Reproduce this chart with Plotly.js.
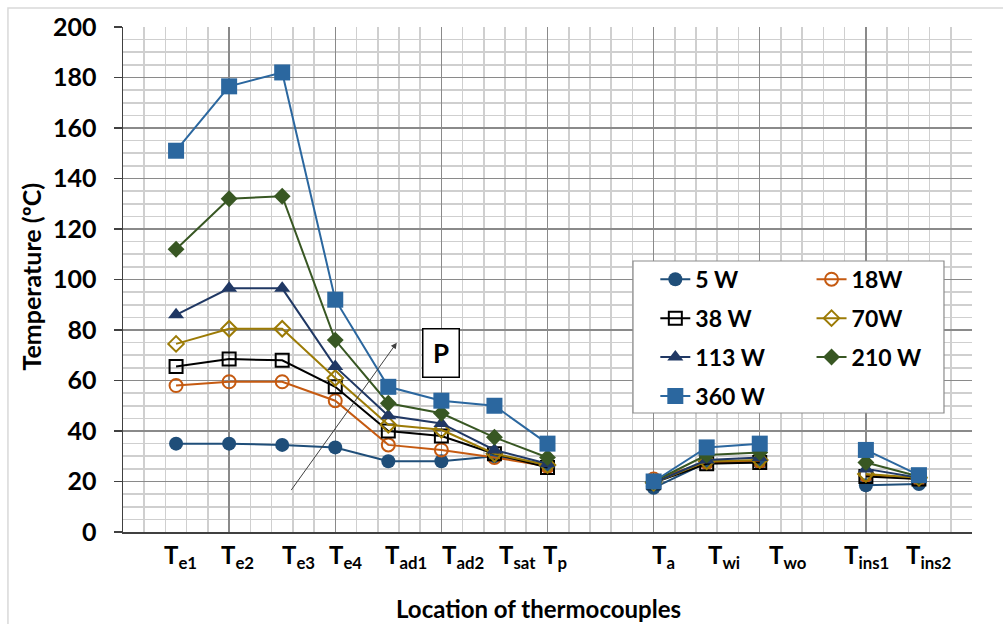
<!DOCTYPE html>
<html>
<head>
<meta charset="utf-8">
<script src="https://cdn.plot.ly/plotly-3.0.1.min.js"></script>
<style>
  html, body { margin: 0; padding: 0; background: #ffffff; }
  #chart { width: 1003px; height: 624px; }
</style>
</head>
<body>
<div id="chart"></div>
<script>
// Thermocouple locations along the rig (numeric x positions leave gaps between groups)
const locationLabels = ['T<sub>e1</sub>', 'T<sub>e2</sub>', 'T<sub>e3</sub>', 'T<sub>e4</sub>',
  'T<sub>ad1</sub>', 'T<sub>ad2</sub>', 'T<sub>sat</sub>', 'T<sub>p</sub>',
  'T<sub>a</sub>', 'T<sub>wi</sub>', 'T<sub>wo</sub>',
  'T<sub>ins1</sub>', 'T<sub>ins2</sub>'];
const locationPos = [1, 2, 3, 4, 5, 6, 7, 8, 10, 11, 12, 14, 15];

// Segments that are joined by lines: evaporator/adiabatic section, water jacket, insulation
const segments = [[0, 8], [8, 11], [11, 13]];

// Temperatures (°C) for each heat input
const seriesNames = ['5 W', '18W', '38 W', '70W', '113 W', '210 W', '360 W'];
const temp5W   = [35, 35, 34.5, 33.5, 28, 28, 30, 26.5, 17.5, 27.5, 27.5, 18.5, 19];
const temp18W  = [58, 59.5, 59.5, 52, 34.5, 32.5, 29.5, 26, 21, 27.5, 28, 22.5, 21];
const temp38W  = [65.5, 68.5, 68, 57.5, 40, 38, 31, 25.5, 19.5, 27, 27.5, 22, 21];
const temp70W  = [74.5, 80.5, 80.5, 61, 42.5, 40.5, 31, 26.5, 19.5, 28, 28.5, 23, 21.5];
const temp113W = [86, 96.5, 96.5, 65.5, 46, 43, 32.5, 27, 19.5, 28.5, 29.5, 25, 21.5];
const temp210W = [112, 132, 133, 76, 51, 47, 37.5, 29.5, 20, 30.5, 31.5, 27.5, 22];
const temp360W = [151, 176.5, 182, 92, 57.5, 52, 50, 35, 20, 33.5, 35, 32.5, 22.5];
const seriesValues = [temp5W, temp18W, temp38W, temp70W, temp113W, temp210W, temp360W];

// Arrow showing increasing power, and its label
const arrowTail = [3.15, 16];
const arrowHead = [5.16, 75];
const arrowLabel = 'P';
const arrowLabelPos = [6.0, 71];

const xTitle = 'Location of thermocouples';
const yTitle = 'Temperature (ºC)';

// Horizontal nudge (px) of each location label's left edge from its sensor position
const labelNudge = [-11, -7, 1, -5, -2, 2, 6, -4, -1, 2, 10, -21, -12];

const styles = [
  { color: '#1F4E79', symbol: 'circle', size: 14, legend: 'legend' },
  { color: '#C55A11', symbol: 'circle-open', size: 13, legend: 'legend2' },
  { color: '#000000', symbol: 'square-open', size: 13, legend: 'legend' },
  { color: '#9C7B06', symbol: 'diamond-open', size: 12, legend: 'legend2' },
  { color: '#203864', symbol: 'triangle-up', size: 14, legend: 'legend' },
  { color: '#385723', symbol: 'diamond', size: 13, legend: 'legend2' },
  { color: '#2B679F', symbol: 'square', size: 16, legend: 'legend' }
];

const FONT = 'Lato, "Open Sans", sans-serif';

// Break each series between the three separate groups of sensors
function withGaps(values) {
  const xs = [], ys = [];
  segments.forEach(([a, b], k) => {
    if (k > 0) { xs.push(null); ys.push(null); }
    for (let i = a; i < b; i++) { xs.push(locationPos[i]); ys.push(values[i]); }
  });
  return { xs, ys };
}

const traces = seriesNames.map((name, i) => {
  const s = styles[i];
  const { xs, ys } = withGaps(seriesValues[i]);
  return {
    type: 'scatter', mode: 'lines+markers', name: name,
    x: xs, y: ys, legend: s.legend, legendgroup: name,
    connectgaps: false,
    line: { color: s.color, width: 2 },
    marker: { symbol: s.symbol, size: s.size, color: s.color,
              line: { color: s.color, width: s.symbol.endsWith('open') ? 2 : 0 } }
  };
});

// Location labels under the axis
const annotations = locationLabels.map((t, i) => ({
  x: locationPos[i], xref: 'x', y: 0, yref: 'paper', xanchor: 'left', yanchor: 'top',
  yshift: -6, xshift: labelNudge[i] - 3,
  text: t, showarrow: false,
  font: { family: FONT, size: 24, color: '#000', weight: 'bold' }
}));

// Axis titles
annotations.push({
  x: 0.5, y: 0, xref: 'paper', yref: 'paper', xanchor: 'center', yanchor: 'middle',
  xshift: -9, yshift: -76, text: xTitle, showarrow: false,
  font: { family: FONT, size: 24, color: '#000', weight: 'bold' }
});
annotations.push({
  x: 0, y: 0.5, xref: 'paper', yref: 'paper', xanchor: 'center', yanchor: 'middle',
  xshift: -93, yshift: 3, text: yTitle, textangle: -90, showarrow: false,
  font: { family: FONT, size: 25, color: '#000', weight: 'bold' }
});

annotations.push({
  x: arrowHead[0], y: arrowHead[1], xref: 'x', yref: 'y',
  ax: arrowTail[0], ay: arrowTail[1], axref: 'x', ayref: 'y',
  text: '', showarrow: true, arrowhead: 2, arrowsize: 1.2, arrowwidth: 1, arrowcolor: '#404040'
});
annotations.push({
  x: arrowLabelPos[0], y: arrowLabelPos[1], xref: 'x', yref: 'y',
  text: arrowLabel, showarrow: false,
  width: 35, height: 47, borderpad: 0, borderwidth: 1.5, bordercolor: '#000', bgcolor: '#fff',
  font: { family: FONT, size: 26, color: '#000', weight: 'bold' }
});

const legendFont = { family: FONT, size: 23, color: '#000', weight: 'bold' };

const layout = {
  width: 1003, height: 624,
  margin: { l: 123, r: 31, t: 27, b: 92 },
  paper_bgcolor: '#ffffff', plot_bgcolor: '#ffffff',
  showlegend: true,
  font: { family: FONT, color: '#000' },
  xaxis: {
    range: [0, 16], tick0: 0, dtick: 2, showticklabels: false, ticks: '',
    showgrid: true, gridcolor: '#8a8a8a', gridwidth: 1.3,
    minor: { tick0: 0, dtick: 0.4, showgrid: true, gridcolor: '#cfcfcf', gridwidth: 1.6 },
    showline: true, linecolor: '#404040', linewidth: 1.5, zeroline: false
  },
  yaxis: {
    range: [0, 200], tick0: 0, dtick: 20,
    showgrid: true, gridcolor: '#8a8a8a', gridwidth: 1.3,
    minor: { tick0: 0, dtick: 5, showgrid: true, gridcolor: '#cfcfcf', gridwidth: 1.6 },
    showline: true, linecolor: '#404040', linewidth: 1.5, zeroline: false,
    ticks: 'outside', ticklen: 8, tickcolor: '#404040', tickwidth: 1.5,
    ticklabelstandoff: 12,
    tickfont: { family: FONT, size: 25, color: '#000', weight: 'bold' }
  },
  legend: {
    x: 0.627, y: 0.543, xanchor: 'left', yanchor: 'top',
    bgcolor: 'rgba(0,0,0,0)', borderwidth: 0, tracegroupgap: 6,
    font: legendFont, itemwidth: 30
  },
  legend2: {
    x: 0.811, y: 0.543, xanchor: 'left', yanchor: 'top',
    bgcolor: 'rgba(0,0,0,0)', borderwidth: 0, tracegroupgap: 6,
    font: legendFont, itemwidth: 30
  },
  shapes: [
    // legend frame
    { type: 'rect', xref: 'paper', yref: 'paper', x0: 0.6007, x1: 0.967, y0: 0.2356, y1: 0.5366,
      fillcolor: '#ffffff', line: { color: '#8c8c8c', width: 1.2 }, layer: 'above' },
    // chart border
    { type: 'rect', xref: 'paper', yref: 'paper', x0: -0.1355, x1: 1.1, y0: -0.3, y1: 1.0376,
      fillcolor: 'rgba(0,0,0,0)', line: { color: '#d9d9d9', width: 1.5 }, layer: 'below' }
  ],
  annotations: annotations
};

Plotly.newPlot('chart', traces, layout, { displayModeBar: false, staticPlot: true });
</script>
</body>
</html>
